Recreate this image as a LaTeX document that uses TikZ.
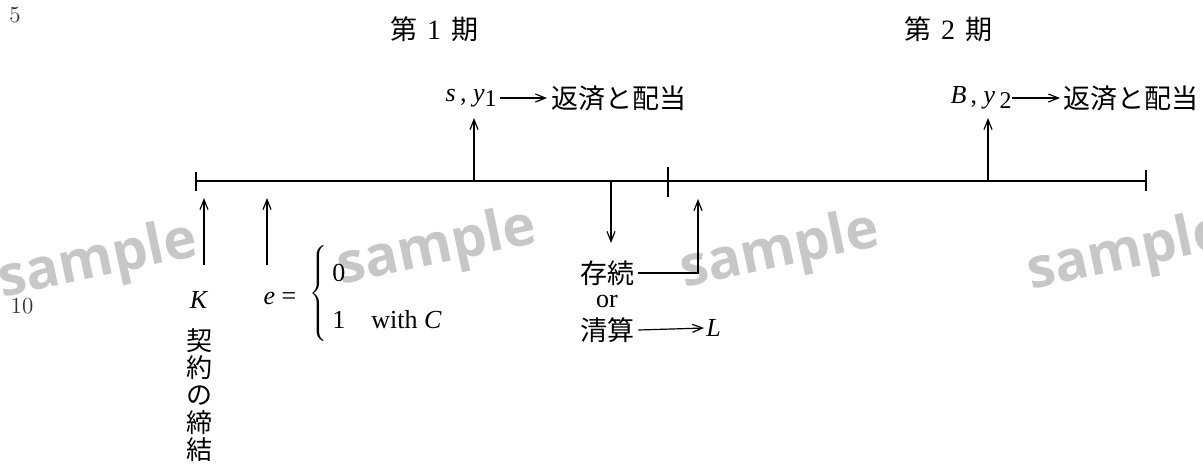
\documentclass[tikz,border=0pt]{standalone}
\usepackage{fontspec}
\setmainfont{Liberation Serif}
\newfontfamily\cjk{Noto Sans CJK JP}
\newfontfamily\wmfont{Open Sans}
\newfontfamily\lmfont{Latin Modern Roman}
\usetikzlibrary{arrows.meta,calc}
\tikzset{
  arr/.style={-{Straight Barb[length=5pt,width=4pt]}, line width=0.6pt},
  ln/.style={line width=0.6pt},
  jp/.style={font=\cjk\fontsize{13.5}{15}\selectfont},
  wm/.style={font=\wmfont\bfseries\fontsize{28}{30}\selectfont, text=black!22, rotate=12},
  lineno/.style={font=\lmfont\fontsize{11.5}{12}\selectfont, text=black!80},
}
\newcommand{\subnum}[1]{\raisebox{-2.5pt}{\fontsize{12}{13}\selectfont #1}}
\begin{document}
\begin{tikzpicture}[x=0.5pt,y=-0.5pt,font=\fontsize{13}{15}\selectfont,every node/.style={inner sep=0pt}]
\useasboundingbox (0,0) rectangle (1203,468);
% watermarks
\node[wm] (w1) at (98,262) {sample};
\node[wm] (w2) at (437,249) {sample};
\node[wm] (w3) at (780,252) {sample};
\node[wm] (w4) at (1127,254) {sample};
% line numbers
\node[lineno] (n5) at (15,15) {5};
\node[lineno] (n10) at (22,306) {10};
% period titles
\node[jp] (p1) at (434,29) {第\hspace{5pt}{\rmfamily\fontsize{14}{15}\selectfont 1}\hspace{5pt}期};
\node[jp] (p2) at (948,29) {第\hspace{5pt}{\rmfamily\fontsize{14}{15}\selectfont 2}\hspace{5pt}期};
% timeline
\coordinate (t0) at (196,181);
\coordinate (tm) at (668,181);
\coordinate (t1) at (1146,181);
\draw[ln] (t0) -- (t1);
\draw[ln] ($(t0)+(0,-9)$) -- ($(t0)+(0,10)$);
\draw[ln] ($(tm)+(0,-14)$) -- ($(tm)+(0,16)$);
\draw[ln] ($(t1)+(0,-11)$) -- ($(t1)+(0,10)$);
% period 1 payout
\coordinate (a1) at (474,181);
\coordinate (a1t) at (474,118);
\draw[arr] (a1) -- (a1t);
\node[anchor=east] (sy1) at (497,98) {\textit{s}\,, \textit{y}\subnum{1}};
\node[jp,anchor=west] (h1) at (551,98) {返済と配当};
\draw[arr] ($(sy1.east)+(3,0)$) -- ($(h1.west)+(-4,0)$);
% period 2 payout
\coordinate (a2) at (988,181);
\coordinate (a2t) at (988,118);
\draw[arr] (a2) -- (a2t);
\node[anchor=east] (by2) at (1012,98) {\textit{B}\,, \textit{y}\,\subnum{2}};
\node[jp,anchor=west] (h2) at (1063,98) {返済と配当};
\draw[arr] (by2.east) -- ($(h2.west)+(-3,0)$);
% K
\node (K) at (199,300) {\textit{K}};
\coordinate (kb) at (204,265);
\coordinate (kt) at (204,198);
\draw[arr] (kb) -- (kt);
\node[jp,align=center,font=\cjk\fontsize{13}{13.6}\selectfont] (keiyaku) at (199,395) {契\\約\\の\\締\\結};
% e
\node (e) at (280,298) {\textit{e} =};
\coordinate (eb) at (267,265);
\coordinate (et) at (267,198);
\draw[arr] (eb) -- (et);
\node (brace) at (320,295) {$\left\{\vrule height 23pt depth 23pt width 0pt\right.$};
\node[anchor=west] (e0) at (332,273) {0};
\node[anchor=west] (e1) at (332,320) {1\hspace{13pt}with \textit{C}};
% continuation or liquidation
\coordinate (d0) at (611,181);
\coordinate (d1) at (611,243);
\draw[arr] (d0) -- (d1);
\node[jp] (sonzoku) at (607,273) {存続};
\node (or) at (607,301) {or};
\node[jp] (seisan) at (607,330) {清算};
\coordinate (up) at (698,199);
\draw[ln,-{Straight Barb[length=5pt,width=4pt]}] ($(sonzoku.east)+(4,0)$) -| (up);
\node[anchor=west] (Lq) at (706,328) {\textit{L}};
\draw[arr] ($(seisan.east)+(4,0)$) -- ($(Lq.west)+(-2,0)$);
\end{tikzpicture}
\end{document}
